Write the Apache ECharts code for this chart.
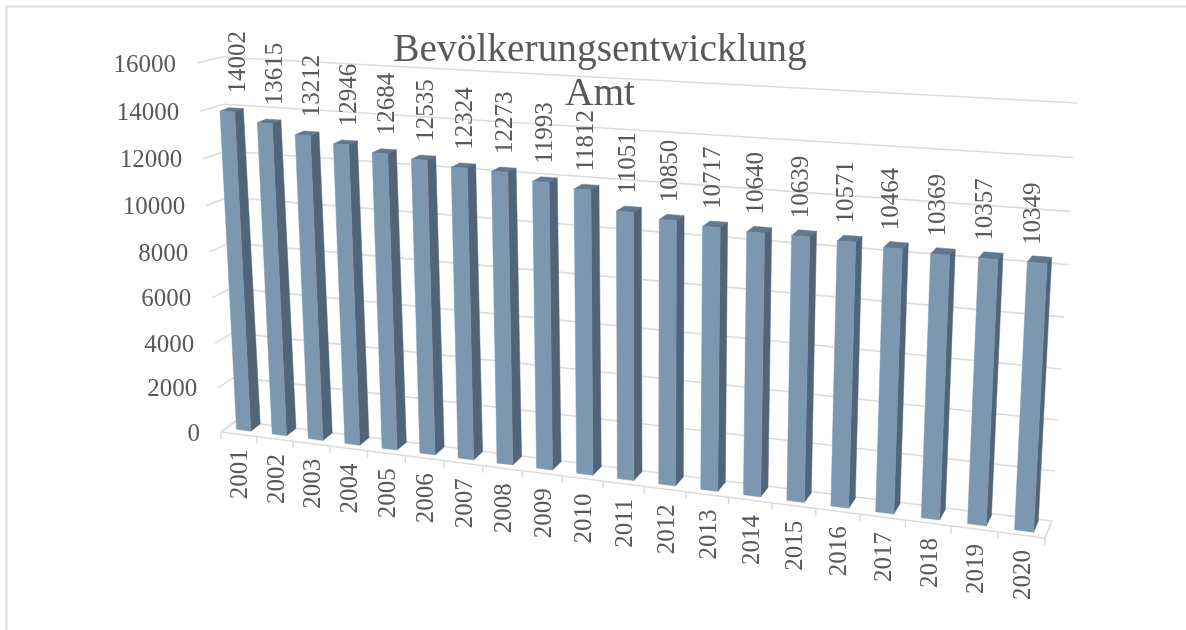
<!DOCTYPE html>
<html>
<head>
<meta charset="utf-8">
<style>
  html, body { margin: 0; padding: 0; background: #fff; }
  #chart { width: 1186px; height: 630px; }
</style>
<script src="https://cdn.jsdelivr.net/npm/echarts@6/dist/echarts.min.js"></script>
</head>
<body>
<div id="chart"></div>
<script>
var years = ['2001', '2002', '2003', '2004', '2005', '2006', '2007', '2008', '2009', '2010',
  '2011', '2012', '2013', '2014', '2015', '2016', '2017', '2018', '2019', '2020'];
var population = [14002, 13615, 13212, 12946, 12684, 12535, 12324, 12273, 11993, 11812,
  11051, 10850, 10717, 10640, 10639, 10571, 10464, 10369, 10357, 10349];
var yTicks = [0, 2000, 4000, 6000, 8000, 10000, 12000, 14000, 16000];
var titleText = 'Bevölkerungsentwicklung\nAmt';

var FONT = '"Liberation Serif", serif';
var TEXT = '#595959';
var GRID = '#dcdcdc';

// the Excel 3D look: each plane is the axis rectangle seen in perspective
// corners are [bottom left, bottom right, top right, top left]
var sideFront = quad([221, 432], [1045, 538], [1066, 114], [197, 63]);
var backWall = quad([236, 421], [1052, 521], [1077, 103], [222, 57]);
var barFront = quad([226, 428], [1048, 534], [1070, 110], [206.5, 63]);
var barBack = quad([235.5, 421], [1052.5, 523], [1074.5, 106], [215, 60]);

// unit square -> quad, returns function(u, t)
function quad(p0, p1, p2, p3) {
  var dx1 = p1[0] - p2[0], dx2 = p3[0] - p2[0], sx = p0[0] - p1[0] + p2[0] - p3[0];
  var dy1 = p1[1] - p2[1], dy2 = p3[1] - p2[1], sy = p0[1] - p1[1] + p2[1] - p3[1];
  var den = dx1 * dy2 - dx2 * dy1;
  var g = (sx * dy2 - dx2 * sy) / den;
  var h = (dx1 * sy - sx * dy1) / den;
  var a = p1[0] - p0[0] + g * p1[0], b = p3[0] - p0[0] + h * p3[0];
  var d = p1[1] - p0[1] + g * p1[1], e = p3[1] - p0[1] + h * p3[1];
  return function (u, t) {
    var w = g * u + h * t + 1;
    return [(a * u + b * t + p0[0]) / w, (d * u + e * t + p0[1]) / w];
  };
}

// pixel from the axes -> unit position in the plot rectangle
function unit(params, api, x, v) {
  var cs = params.coordSys;
  var c = api.coord([x, v]);
  return [(c[0] - cs.x) / cs.width, (cs.y + cs.height - c[1]) / cs.height];
}

function line(a, b) {
  return {
    type: 'line',
    shape: { x1: a[0], y1: a[1], x2: b[0], y2: b[1] },
    style: { stroke: GRID, lineWidth: 1.6 }
  };
}

function poly(points, fill) {
  return { type: 'polygon', shape: { points: points }, style: { fill: fill, stroke: fill, lineWidth: 0.5 } };
}

function upText(text, x, y, align) {
  return {
    type: 'text',
    x: x,
    y: y,
    rotation: Math.PI / 2,
    style: { text: text, fill: TEXT, font: '25px ' + FONT, align: align, verticalAlign: 'middle' }
  };
}

function renderGrid(params, api) {
  var p = unit(params, api, 0, api.value(1));
  var a = sideFront(0, p[1]);
  return {
    type: 'group',
    children: [
      line(a, backWall(0, p[1])),
      line(backWall(0, p[1]), backWall(1, p[1])),
      {
        type: 'text',
        style: {
          text: String(api.value(1)), x: a[0] - 21, y: a[1] + 2, fill: TEXT,
          font: '25px ' + FONT, align: 'right', verticalAlign: 'middle'
        }
      }
    ]
  };
}

function renderFloor(params, api) {
  var i = api.value(0);
  var band = api.size([1, 0])[0] / params.coordSys.width;
  var u = unit(params, api, i, 0)[0];
  var tick = sideFront(u - band / 2, 0);
  var kids = [line(tick, [tick[0], tick[1] + 7]), upText(years[i], sideFront(u, 0)[0] + 2, sideFront(u, 0)[1] + 15, 'right')];
  if (i === years.length - 1) {
    var end = sideFront(1, 0);
    kids.push(line(end, [end[0], end[1] + 7]));
    kids.push(line(end, backWall(1, 0)));
    kids.push(line(sideFront(0, 0), end));
    kids.push(line(sideFront(0, 0), backWall(0, 0)));
  }
  return { type: 'group', children: kids };
}

function renderBar(params, api) {
  var i = api.value(0);
  var band = api.size([1, 0])[0] / params.coordSys.width;
  var half = band * 0.2;
  var p = unit(params, api, i, api.value(1));
  var u0 = p[0] - half, u1 = p[0] + half, t = p[1];
  return {
    type: 'group',
    children: [
      poly([barFront(u0, t), barFront(u1, t), barBack(u1, t), barBack(u0, t)], '#62788e'),
      poly([barFront(u1, 0), barBack(u1, 0), barBack(u1, t), barFront(u1, t)], '#526578'),
      poly([barFront(u0, 0), barFront(u1, 0), barFront(u1, t), barFront(u0, t)], '#7c97b0')
    ]
  };
}

function renderValue(params, api) {
  var p = unit(params, api, api.value(0), api.value(1));
  var top = barFront(p[0], p[1]);
  var mid = barFront(p[0], p[1] / 2);
  return upText(String(api.value(1)), mid[0] + 3, top[1] - 18, 'left');
}

var chart = echarts.init(document.getElementById('chart'));
chart.setOption({
  animation: false,
  backgroundColor: '#fff',
  title: {
    text: titleText,
    left: 595,
    top: 24,
    textAlign: 'center',
    textStyle: { fontFamily: FONT, fontSize: 39.4, fontWeight: 'normal', lineHeight: 44, color: TEXT }
  },
  grid: { left: 200, top: 64, width: 860, height: 367 },
  xAxis: { type: 'category', data: years, show: false },
  yAxis: { type: 'value', min: 0, max: 16000, interval: 2000, show: false },
  graphic: [
    { type: 'line', shape: { x1: 6.5, y1: 6.5, x2: 1186, y2: 6.5 }, style: { stroke: GRID, lineWidth: 2 }, silent: true },
    { type: 'line', shape: { x1: 6.5, y1: 6.5, x2: 6.5, y2: 630 }, style: { stroke: GRID, lineWidth: 2 }, silent: true }
  ],
  series: [
    { type: 'custom', renderItem: renderGrid, data: yTicks.map(function (v) { return [0, v]; }), silent: true, clip: false, z: 1 },
    { type: 'custom', renderItem: renderFloor, data: years.map(function (y, i) { return [i, 0]; }), silent: true, clip: false, z: 1 },
    { type: 'custom', renderItem: renderBar, data: population.map(function (v, i) { return [i, v]; }), silent: true, clip: false, z: 2 },
    { type: 'custom', renderItem: renderValue, data: population.map(function (v, i) { return [i, v]; }), silent: true, clip: false, z: 3 }
  ]
});
</script>
</body>
</html>
